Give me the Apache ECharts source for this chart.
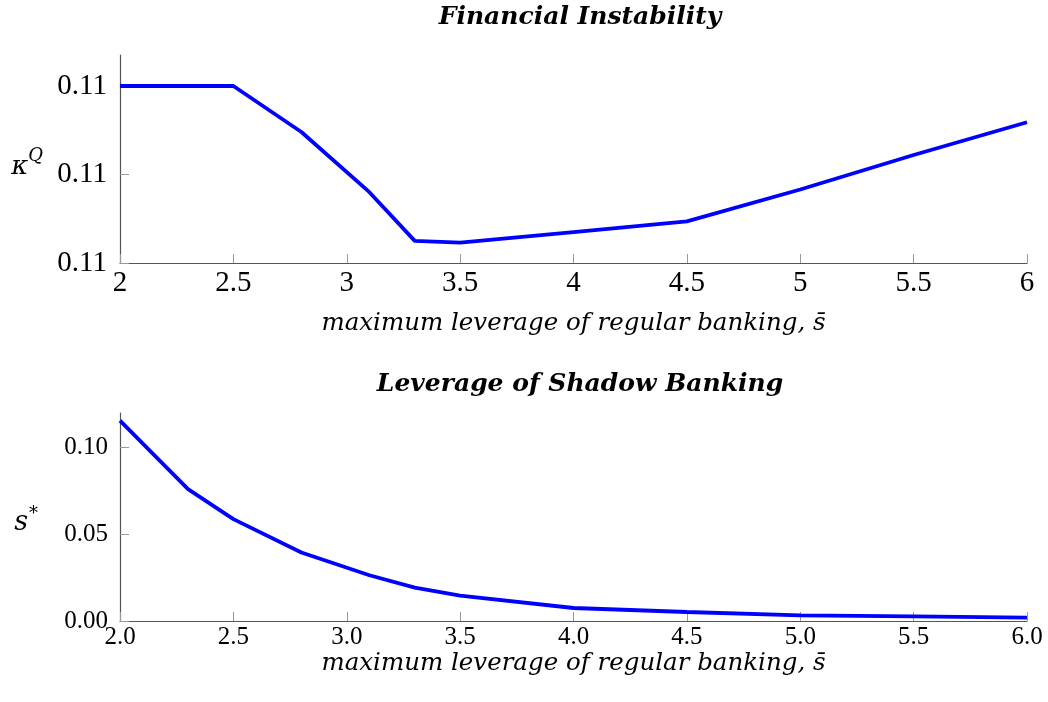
<!DOCTYPE html>
<html>
<head>
<meta charset="utf-8">
<script src="https://cdn.jsdelivr.net/npm/echarts@6/dist/echarts.min.js"></script>
<style>
  html, body { margin: 0; padding: 0; background: #fff; }
  #chart { width: 1048px; height: 702px; }
</style>
</head>
<body>
<div id="chart"></div>
<script>
  // maximum leverage of regular banking (x values shared by both panels)
  var leverage = [2.0, 2.3, 2.5, 2.8, 3.1, 3.3, 3.5, 4.0, 4.5, 5.0, 5.5, 6.0];
  // financial instability kappa^Q
  var kappaQ = [0.11020, 0.11020, 0.11020, 0.110148, 0.110080, 0.110025, 0.110023,
                0.110035, 0.110047, 0.110083, 0.110122, 0.110159];
  // leverage of shadow banking s*
  var sStar = [0.1156, 0.0761, 0.0588, 0.0395, 0.0264, 0.0193, 0.0147,
               0.0075, 0.0052, 0.0033, 0.0027, 0.0020];

  var xTicks = [2, 2.5, 3, 3.5, 4, 4.5, 5, 5.5, 6];
  var kappaTicks = [0.11, 0.1101, 0.1102];
  var sTicks = [0, 0.05, 0.10];

  var serif = '"Liberation Serif", "DejaVu Serif", serif';
  var wide = '"DejaVu Serif", "Liberation Serif", serif';
  var xName = 'maximum leverage of regular banking, s\u0304';

  function pairs(xs, ys) {
    return xs.map(function (x, i) { return [x, ys[i]]; });
  }

  var axisLine = { lineStyle: { color: '#555', width: 1.2 } };
  var axisTick = { inside: true, length: 9, lineStyle: { color: '#999', width: 1 } };
  var titleStyle = { fontFamily: wide, fontSize: 25, fontWeight: 'bold', fontStyle: 'italic', color: '#000' };
  var nameStyle = { fontFamily: wide, fontStyle: 'italic', fontSize: 24.5, color: '#000' };

  var chart = echarts.init(document.getElementById('chart'));
  chart.setOption({
    animation: false,
    textStyle: { fontFamily: serif, color: '#000' },
    title: [
      { text: 'Financial Instability', left: 575, top: 0, textAlign: 'center', textStyle: titleStyle },
      { text: 'Leverage of Shadow Banking', left: 575, top: 367, textAlign: 'center', textStyle: titleStyle }
    ],
    grid: [
      { left: 120, top: 55, width: 907, height: 208 },
      { left: 120, top: 413, width: 907, height: 208 }
    ],
    xAxis: [
      { type: 'value', gridIndex: 0, min: 2, max: 6,
        name: xName, nameLocation: 'middle', nameGap: 48, nameTextStyle: nameStyle,
        axisLine: axisLine, axisTick: Object.assign({ customValues: xTicks }, axisTick), splitLine: { show: false },
        axisLabel: { customValues: xTicks, fontFamily: serif, fontSize: 29, color: '#000', margin: 6 } },
      { type: 'value', gridIndex: 1, min: 2, max: 6,
        name: xName, nameLocation: 'middle', nameGap: 23, nameTextStyle: nameStyle,
        axisLine: axisLine, axisTick: Object.assign({ customValues: xTicks }, axisTick), splitLine: { show: false },
        axisLabel: { customValues: xTicks, fontFamily: serif, fontSize: 25, color: '#000', margin: 4,
          formatter: function (v) { return v.toFixed(1); } } }
    ],
    yAxis: [
      { type: 'value', gridIndex: 0, min: 0.11, max: 0.110235,
        name: '{k|\u03BA}{sup|Q}', nameLocation: 'middle', nameRotate: 0, nameGap: 77,
        nameTextStyle: { rich: {
          k: { fontFamily: wide, fontStyle: 'italic', fontSize: 26, color: '#000', padding: [16, 0, 0, 0] },
          sup: { fontFamily: wide, fontStyle: 'italic', fontSize: 18, color: '#000', verticalAlign: 'top', padding: [9, 0, 0, 0] }
        } },
        axisLine: axisLine, axisTick: Object.assign({ customValues: kappaTicks }, axisTick), splitLine: { show: false },
        axisLabel: { customValues: kappaTicks, fontFamily: serif, fontSize: 29, color: '#000', margin: 13,
          padding: [7, 0, 0, 0],
          formatter: function (v) { return v.toFixed(2); } } },
      { type: 'value', gridIndex: 1, min: 0, max: 0.12,
        name: '{s|s}{sup|*}', nameLocation: 'middle', nameRotate: 0, nameGap: 82,
        nameTextStyle: { rich: {
          s: { fontFamily: wide, fontStyle: 'italic', fontSize: 27, color: '#000', padding: [12, 0, 0, 0] },
          sup: { fontFamily: wide, fontSize: 18, color: '#000', verticalAlign: 'top', padding: [8, 0, 0, 1] }
        } },
        axisLine: axisLine, axisTick: Object.assign({ customValues: sTicks }, axisTick), splitLine: { show: false },
        axisLabel: { customValues: sTicks, fontFamily: serif, fontSize: 25, color: '#000', margin: 12,
          padding: [2, 0, 0, 0],
          formatter: function (v) { return v.toFixed(2); } } }
    ],
    series: [
      { type: 'line', xAxisIndex: 0, yAxisIndex: 0, data: pairs(leverage, kappaQ),
        showSymbol: false, lineStyle: { color: '#0000ff', width: 3.8 } },
      { type: 'line', xAxisIndex: 1, yAxisIndex: 1, data: pairs(leverage, sStar),
        showSymbol: false, lineStyle: { color: '#0000ff', width: 3.8 } }
    ]
  });
</script>
</body>
</html>
